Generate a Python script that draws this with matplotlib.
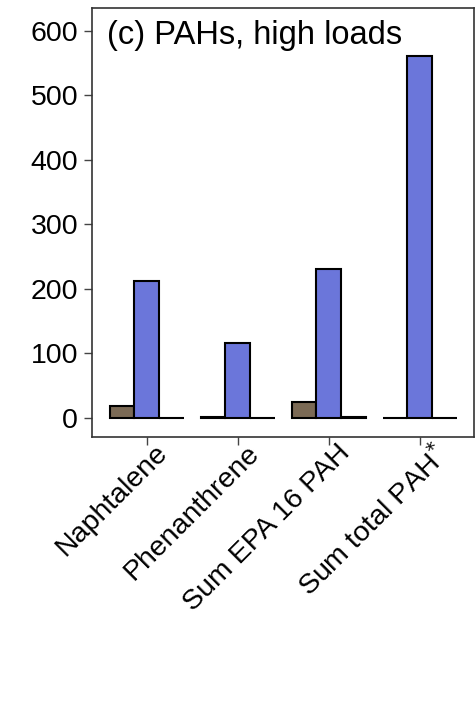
import matplotlib
matplotlib.use("Agg")
import matplotlib.pyplot as plt
import matplotlib.transforms as mtransforms
import numpy as np

plt.rcParams['font.family'] = ['Liberation Sans', 'DejaVu Sans']

categories = ["Naphtalene", "Phenanthrene", "Sum EPA 16 PAH", "Sum total PAH$^{*}$"]
series_a = [19, 1, 24, 0]
series_b = [212, 116, 230, 560]
series_c = [0.5, 0.5, 2, 0.5]
colors = ["#7b6a55", "#6b76da", "#ffffff"]

fig = plt.figure(figsize=(4.75, 7.21), dpi=100)
ax = fig.add_axes([0.1937, 0.394, 0.805, 0.595])

x = np.arange(len(categories))
w = 0.27
for i, (vals, c) in enumerate(zip([series_a, series_b, series_c], colors)):
    ax.bar(x + (i - 1) * w, vals, width=w, color=c, edgecolor="black", linewidth=1.5)

ax.set_xlim(-0.6, 3.6)
ax.set_ylim(-29.5, 635)
ax.set_yticks([0, 100, 200, 300, 400, 500, 600])
ax.set_xticks(x)
ax.set_xticklabels([])
for xi, lab in zip(x, categories):
    extra = 5 if "*" in lab else 0
    offset = mtransforms.ScaledTranslation((8 + extra) / 100, -3 / 100, fig.dpi_scale_trans)
    ax.text(xi, 0, lab, transform=ax.get_xaxis_transform() + offset,
            rotation=45, ha="right", va="top", rotation_mode="anchor",
            fontsize=20.5, clip_on=False)
ax.tick_params(axis="y", labelsize=20.5, length=6, color="#444444", width=1, pad=4)
ax.tick_params(axis="x", length=6, color="#444444", width=1)
for s in ax.spines.values():
    s.set_color("#333333")
    s.set_linewidth(1.2)
ax.text(0.04, 0.916, "(c) PAHs, high loads", transform=ax.transAxes, fontsize=23.5, va="baseline", ha="left")

fig.savefig("out.png", dpi=100)
